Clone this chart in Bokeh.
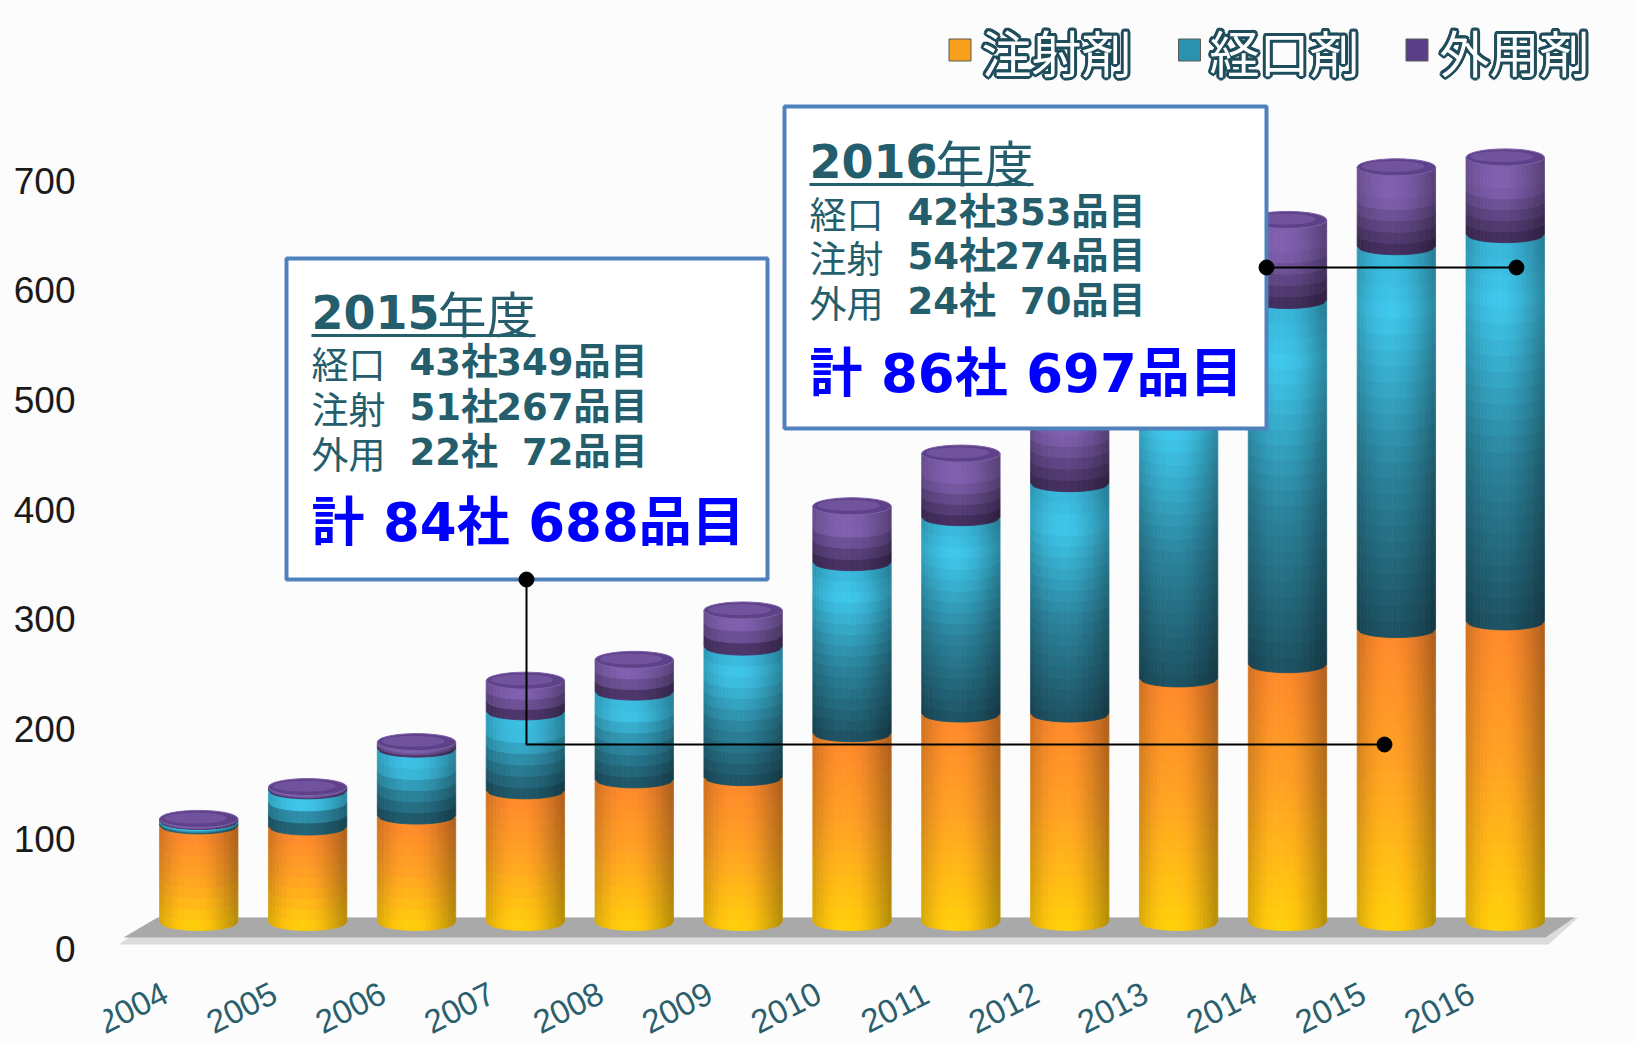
import numpy as np
from bokeh.plotting import figure
from bokeh.models import Range1d, LinearAxis, FixedTicker, ColumnDataSource
from bokeh.core.properties import value
from bokeh.embed import file_html
from bokeh.resources import INLINE

# ---------------- data ----------------
years = [2004, 2005, 2006, 2007, 2008, 2009, 2010, 2011, 2012, 2013, 2014, 2015, 2016]
year_labels = [str(y) for y in years]
injection = [88, 87, 97, 120, 130, 132, 172, 190, 190, 222, 235, 267, 274]   # 注射剤
oral = [4, 33, 61, 72, 80, 119, 156, 179, 210, 270, 332, 349, 353]           # 経口剤
external = [2, 3, 6, 28, 29, 33, 51, 58, 72, 68, 73, 72, 70]                 # 外用剤
y_ticks = [0, 100, 200, 300, 400, 500, 600, 700]
legend_labels = ["注射剤", "経口剤", "外用剤"]

box_row_labels = ["経口", "注射", "外用"]
box2015_title = ("2015", "年度")
box2015_companies = ["43社", "51社", "22社"]
box2015_items = ["349品目", "267品目", "72品目"]
box2015_total = "計 84社 688品目"
box2016_title = ("2016", "年度")
box2016_companies = ["42社", "54社", "24社"]
box2016_items = ["353品目", "274品目", "70品目"]
box2016_total = "計 86社 697品目"

# ---------------- layout helpers ----------------
W, H = 1637, 1042
PX_Y = 1.097                 # pixels per unit
PX_X = 1497 / 13.75          # pixels per year
FLOOR = 930                  # page y of value 0
LEFT = 103


def X(px):
    return years[0] - 0.875 + (px - LEFT) / PX_X


def Y(py):
    return (FLOOR - py) / PX_Y


p = figure(frame_width=1497, frame_height=H,
           x_range=Range1d(X(LEFT), X(LEFT + 1497)), y_range=Range1d(Y(H), Y(0)),
           output_backend="svg", toolbar_location=None,
           x_axis_location=None, y_axis_location=None,
           min_border_left=LEFT, min_border_right=W - LEFT - 1497,
           min_border_top=0, min_border_bottom=0,
           background_fill_color="#fcfcfc", border_fill_color="#fcfcfc",
           outline_line_color=None)
p.xgrid.visible = False
p.ygrid.visible = False

shift = 18 / PX_Y
p.extra_y_ranges = {"lab": Range1d(Y(H) + shift, Y(0) + shift)}
ax = LinearAxis(y_range_name="lab", ticker=FixedTicker(ticks=y_ticks))
ax.axis_line_color = None
ax.major_tick_line_color = None
ax.minor_tick_line_color = None
ax.major_tick_out = 0
ax.major_label_standoff = 28
ax.major_label_text_font = "Liberation Sans"
ax.major_label_text_font_size = "37px"
ax.major_label_text_color = "#1a1a1a"
p.add_layout(ax, "left")

# ---------------- floor ----------------
p.patch([X(118), X(160), X(1578), X(1548)], [Y(944), Y(917), Y(917), Y(944)],
        fill_color="#dcdcdc", line_color=None)
p.patch([X(123), X(157), X(1574), X(1545)], [Y(937), Y(917), Y(917), Y(937)],
        fill_color="#a9a9a9", line_color=None)

# ---------------- cylinders ----------------
R = 0.36
E = 8.5 / PX_Y


def hex2rgb(h):
    h = h.lstrip("#")
    return np.array([int(h[i:i + 2], 16) for i in (0, 2, 4)], dtype=float)


def interp(stops, s):
    pos = [a for a, _ in stops]
    cols = [hex2rgb(c) for _, c in stops]
    for k in range(len(pos) - 1):
        if pos[k] <= s <= pos[k + 1]:
            f = (s - pos[k]) / (pos[k + 1] - pos[k])
            return cols[k] * (1 - f) + cols[k + 1] * f
    return cols[-1]


stops = [
    [(0, "#f5842a"), (0.45, "#f99c22"), (1, "#fec90a")],
    [(0, "#36aed0"), (0.15, "#3cbfe2"), (0.55, "#2a8098"), (1, "#1c4d5d")],
    [(0, "#7a5ba6"), (0.3, "#7b5ca8"), (1, "#3b2852")],
]

series = [injection, oral, external]
NX = 22
xs, ys, cols = [], [], []
for i, c in enumerate(years):
    base = 0.0
    for k, vals in enumerate(series):
        b, t = base, base + vals[i]
        base = t
        ny = int(min(24, max(3, round((t - b) / 10))))
        for ix in range(NX):
            u0 = -1 + 2 * ix / NX
            u1 = -1 + 2 * (ix + 1) / NX
            x0, x1 = c + R * u0, c + R * u1
            d0 = E * (1 - np.sqrt(max(0.0, 1 - u0 * u0)))
            d1 = E * (1 - np.sqrt(max(0.0, 1 - u1 * u1)))
            th = (ix + 0.5) / NX
            fac = 0.78 + 0.27 * np.cos(np.pi * (th - 0.42))
            for jy in range(ny):
                v0 = b + (t - b) * jy / ny
                v1 = b + (t - b) * (jy + 1) / ny
                s = 1 - (jy + 0.5) / ny
                rgb = np.clip(interp(stops[k], s) * fac, 0, 255).astype(int)
                xs.append([x0, x1, x1, x0])
                ys.append([v0 + d0, v0 + d1, v1 + d1, v1 + d0])
                cols.append("#%02x%02x%02x" % tuple(rgb))

src = ColumnDataSource(dict(xs=xs, ys=ys, c=cols))
p.patches("xs", "ys", source=src, fill_color="c", line_color="c", line_width=0.8)

totals = [a + b + c for a, b, c in zip(injection, oral, external)]
p.ellipse(x=years, y=[tv + E for tv in totals], width=2 * R, height=2 * E,
          fill_color="#5e4188", line_color="#7c60a8", line_width=1)
p.ellipse(x=[y - 0.03 for y in years], y=[tv + E * 1.1 for tv in totals],
          width=2 * R * 0.8, height=2 * E * 0.65,
          fill_color="#71529d", line_color=None)

# ---------------- year labels ----------------
p.text(x=years, y=[Y(1007)] * len(years), text=year_labels, angle=0.47,
       x_offset=-66, text_align="center", text_baseline="middle",
       text_font=value("Liberation Sans"), text_font_size="33px",
       text_color="#2b5f6e")

# ---------------- legend ----------------
sq_x = [959.5, 1189, 1416.5]
txt_x = [981, 1209, 1439]
sq_cols = ["#f7a01c", "#2a92ad", "#5b3f86"]
p.rect(x=[X(v) for v in sq_x], y=[Y(49.5)] * 3, width=22, height=22,
       width_units="screen", height_units="screen",
       fill_color=sq_cols, line_color="#5a5a5a", line_width=1)
hx, hy, ht, hdx, hdy = [], [], [], [], []
for tx, lab in zip(txt_x, legend_labels):
    for a in np.linspace(0, 2 * np.pi, 12, endpoint=False):
        hx.append(X(tx))
        hy.append(Y(50))
        ht.append(lab)
        hdx.append(3 * np.cos(a))
        hdy.append(3 * np.sin(a))
p.text(x="x", y="y", text="t", x_offset="dx", y_offset="dy",
       source=ColumnDataSource(dict(x=hx, y=hy, t=ht, dx=hdx, dy=hdy)),
       text_font=value("Noto Sans CJK JP"), text_font_size="50px",
       text_color="#1f4d5c", text_align="left", text_baseline="middle")
p.text(x=[X(v) for v in txt_x], y=[Y(50)] * 3, text=legend_labels,
       text_font=value("Noto Sans CJK JP"), text_font_size="50px",
       text_color="#ffffff", text_align="left", text_baseline="middle")

# ---------------- annotation boxes ----------------
BOLD = value("'DejaVu Sans', 'Noto Sans CJK JP'")
CJK = value("Noto Sans CJK JP")
TEAL = "#245d6b"


def info_box(left, top, right, bottom, title, companies, items, total, ty, rows_y, tot_y):
    p.quad(left=[X(left)], right=[X(right)], top=[Y(top)], bottom=[Y(bottom)],
           fill_color="#ffffff", line_color="#4f81bd", line_width=4)
    tx = left + 25
    p.text(x=[X(tx)], y=[Y(ty)], text=[title[0]], text_font=value("DejaVu Sans"),
           text_font_style="bold", text_font_size="46px", text_color=TEAL,
           text_baseline="middle")
    p.text(x=[X(tx + 126)], y=[Y(ty)], text=[title[1]], text_font=CJK,
           text_font_size="49px", text_color=TEAL, text_baseline="middle")
    p.line([X(tx), X(tx + 224)], [Y(ty + 24), Y(ty + 24)], line_color=TEAL, line_width=3)
    p.text(x=[X(tx)] * 3, y=[Y(v) for v in rows_y], text=box_row_labels,
           text_font=CJK, text_font_size="37px", text_color=TEAL, text_baseline="middle")
    p.text(x=[X(tx + 98)] * 3, y=[Y(v) for v in rows_y], text=companies,
           text_font=BOLD, text_font_style="bold", text_font_size="37px",
           text_color=TEAL, text_baseline="middle")
    p.text(x=[X(tx + 336)] * 3, y=[Y(v) for v in rows_y], text=items,
           text_font=BOLD, text_font_style="bold", text_font_size="37px",
           text_color=TEAL, text_baseline="middle", text_align="right")
    p.text(x=[X(tx)], y=[Y(tot_y)], text=[total], text_font=BOLD,
           text_font_style="bold", text_font_size="53px", text_color="#0000ff",
           text_baseline="middle")


info_box(286, 258, 767, 579, box2015_title, box2015_companies, box2015_items,
         box2015_total, 311, [362, 407, 452], 522)
info_box(784, 106, 1266, 428, box2016_title, box2016_companies, box2016_items,
         box2016_total, 160, [212, 256, 301], 373)

# ---------------- connectors ----------------
p.line([X(526), X(526), X(1384)], [Y(579), Y(744), Y(744)], line_color="#000000", line_width=2)
p.line([X(1266), X(1516)], [Y(267), Y(267)], line_color="#000000", line_width=2)
p.scatter(x=[X(526), X(1384), X(1266), X(1516)], y=[Y(579), Y(744), Y(267), Y(267)],
          size=15, fill_color="#000000", line_color="#000000")

open("out.html", "w").write(file_html(p, INLINE))
